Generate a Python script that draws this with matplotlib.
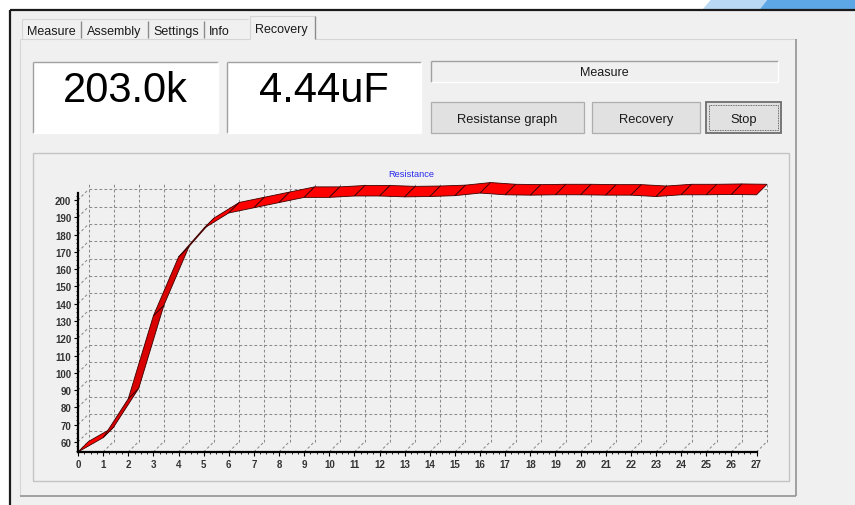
import numpy as np
import matplotlib
matplotlib.use('Agg')
import matplotlib.pyplot as plt
from matplotlib.patches import Rectangle, Polygon
from matplotlib.ticker import FixedLocator

plt.rcParams['font.family'] = ['Liberation Sans', 'DejaVu Sans']

# ---- data ----
time_x = list(range(28))
resistance = [54.2, 62.5, 85.0, 133.0, 167.0, 183.5, 192.5, 195.5, 198.5, 201.5,
              201.5, 202.3, 202.3, 201.8, 202.0, 202.5, 204.0, 203.0, 202.8, 203.0,
              203.0, 202.8, 202.8, 202.0, 203.0, 203.0, 203.2, 203.0]
y_ticks = list(range(60, 201, 10))
tab_names = ['Measure', 'Assembly', 'Settings', 'Info']
active_tab = 'Recovery'
resistance_reading = '203.0k'
capacity_reading = '4.44uF'
status_text = 'Measure'
button_labels = ['Resistanse graph', 'Recovery', 'Stop']
chart_title = 'Resistance'

W, H = 855, 506
fig = plt.figure(figsize=(W / 100, H / 100), dpi=100, facecolor='white')

# background axes in pixel coords (y down) for the window widgets
bg = fig.add_axes([0, 0, 1, 1])
bg.set_xlim(0, W)
bg.set_ylim(H, 0)
bg.axis('off')


def line(xs, ys, c, lw=0.8, **kw):
    bg.plot(xs, ys, color=c, lw=lw, solid_capstyle='butt', **kw)


def sunken(x0, y0, x1, y1, fc):
    bg.add_patch(Rectangle((x0, y0), x1 - x0, y1 - y0, fc=fc, ec='none'))
    line([x0, x1], [y0, y0], '#a0a0a0', 1.0)
    line([x0, x0], [y0, y1], '#a0a0a0', 1.0)
    line([x0, x1], [y1, y1], '#ffffff', 1.0)
    line([x1, x1], [y0, y1], '#ffffff', 1.0)


# window
bg.add_patch(Rectangle((10, 11), W - 10, H - 11, fc='#f0f0f0', ec='none'))
bg.add_patch(Polygon([(703, 10), (711.5, 0), (768, 0), (760, 10)], fc='#b9d8f3', ec='none'))
bg.add_patch(Polygon([(760, 10), (768, 0), (W, 0), (W, 10)], fc='#5ea7e6', ec='none'))
line([10, W], [11, 11], '#1a1a1a', 1.6)
line([10, 10], [11, H], '#1a1a1a', 1.6)

# tab page
line([20, 250], [40, 40], '#d6d6d6')
line([315, 796], [40, 40], '#d6d6d6')
line([20, 20], [40, 497], '#d6d6d6')
line([796, 796], [40, 497], '#9a9a9a', 1.3)
line([20, 796], [497, 497], '#9a9a9a', 1.3)

# tabs
line([22, 248], [20, 20], '#d6d6d6')
line([22, 22], [20, 40], '#d6d6d6')
for sx in [81, 147.7, 204.3]:
    line([sx, sx], [22, 39], '#8c8c8c', 1.0)
line([250, 250], [17, 40], '#d6d6d6')
line([250, 315], [17, 17], '#d6d6d6')
line([315, 315], [17, 40], '#8c8c8c', 1.0)
for name, tx in zip(tab_names, [26.7, 86.7, 153.3, 209.3]):
    bg.text(tx, 35, name, fontsize=9, ha='left', va='baseline', color='#1a1a1a')
bg.text(255, 33.3, active_tab, fontsize=9, ha='left', va='baseline', color='#1a1a1a')

# readings
sunken(33, 63, 218, 134, 'white')
sunken(227, 63, 421, 134, 'white')
bg.text(125.5, 101.7, resistance_reading, fontsize=30, ha='center', va='baseline')
bg.text(324, 101.7, capacity_reading, fontsize=30, ha='center', va='baseline')

# status + buttons
sunken(431, 62, 778, 83, '#f0f0f0')
bg.text(604.5, 76, status_text, fontsize=9, ha='center', va='baseline', color='#1a1a1a')
for lab, (x0, x1) in zip(button_labels, [(431, 584), (592, 700), (706, 781)]):
    focus = lab == 'Stop'
    bg.add_patch(Rectangle((x0, 103), x1 - x0, 31, fc='#e1e1e1',
                           ec='#6e6e6e' if focus else '#adadad', lw=1.3 if focus else 0.9))
    if focus:
        bg.add_patch(Rectangle((x0 + 3, 106), x1 - x0 - 6, 25, fc='none', ec='#444444',
                               lw=0.6, ls=(0, (1, 1))))
    bg.text((x0 + x1) / 2, 123.3, lab, fontsize=9.3, ha='center', va='baseline', color='#1a1a1a')

# chart panel
bg.add_patch(Rectangle((33, 154), 756, 328, fc='#f0f0f0', ec='#c4c4c4', lw=1.0))
bg.text(411.5, 177, chart_title, fontsize=6.7, ha='center', va='baseline', color='#2a2af0')

# ---- 3D ribbon chart ----
px_x0, px_ux = 78.0, 25.13      # pixel of x=0, pixels per unit
px_y0, px_uy = 453.0, 1.7286    # pixel of ymin, pixels per unit
ymin, ymax = 54.2, 204.2
depth = 10.5
dx = depth / px_ux
dy = depth / px_uy
xmax = 27 + dx
ytop = ymax + dy

ax = fig.add_axes([px_x0 / W, (H - px_y0) / H,
                   xmax * px_ux / W, (ytop - ymin) * px_uy / H])
ax.set_xlim(0, xmax)
ax.set_ylim(ymin, ytop)
ax.patch.set_alpha(0)

# back wall / floor / side wall grid
gs = dict(color='#8a8a8a', lw=0.75, ls=(0, (2.6, 2.2)), clip_on=False, zorder=1)
for xi in time_x:
    ax.plot([xi + dx, xi + dx], [ymin + dy, ytop], **gs)
    ax.plot([xi, xi + dx], [ymin, ymin + dy], **gs)
for yt in y_ticks:
    ax.plot([dx, xmax], [yt + dy, yt + dy], **gs)
    ax.plot([0, dx], [yt, yt + dy], **gs)

# ribbon
x = np.array(time_x, float)
v = np.array(resistance)
for i in range(len(x) - 1):
    poly = [(x[i], v[i]), (x[i + 1], v[i + 1]),
            (x[i + 1] + dx, v[i + 1] + dy), (x[i] + dx, v[i] + dy)]
    slope = (v[i + 1] - v[i]) * px_uy / ((x[i + 1] - x[i]) * px_ux)
    fc = '#d80000' if slope > 1 else '#ff0000'
    ax.add_patch(Polygon(poly, closed=True, fc=fc, ec='#3c0000', lw=0.6,
                         zorder=3, clip_on=False))

# axes
for s in ['top', 'right']:
    ax.spines[s].set_visible(False)
ax.spines['left'].set_bounds(ymin, ymax)
ax.spines['bottom'].set_bounds(0, 27)
for s in ['left', 'bottom']:
    ax.spines[s].set_linewidth(1.6)
    ax.spines[s].set_zorder(4)
ax.set_xticks(time_x)
ax.set_yticks(y_ticks)
ax.xaxis.set_minor_locator(FixedLocator([i + k * 0.25 for i in range(27) for k in (1, 2, 3)]))
ax.yaxis.set_minor_locator(FixedLocator([t + k * 2.5 for t in range(50, 210, 10)
                                         for k in (1, 2, 3) if ymin < t + k * 2.5 < ymax]))
ax.tick_params(which='major', length=3, width=0.8, pad=1.8, labelsize=7,
               labelcolor='#333333', color='black')
ax.tick_params(which='minor', length=1.5, width=0.6, color='black')
for lbl in ax.get_xticklabels() + ax.get_yticklabels():
    lbl.set_fontweight('bold')

fig.savefig('out.png', dpi=100)
